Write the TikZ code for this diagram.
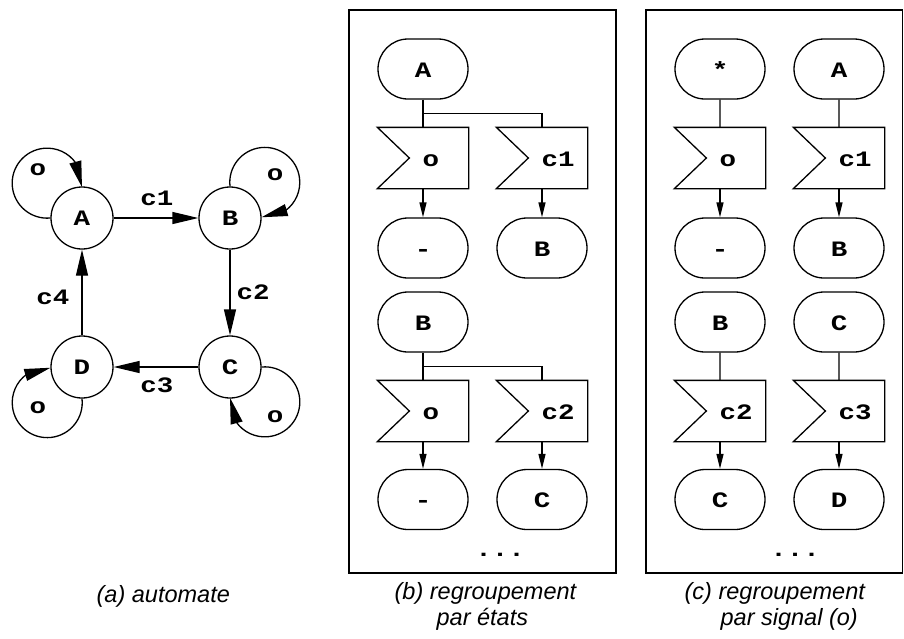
\documentclass[tikz,border=0pt]{standalone}
\usepackage{fontspec}
\usetikzlibrary{arrows.meta,bending,shapes.misc,calc}
\newfontfamily\courf{Liberation Mono}[FakeStretch=1.25]
\newfontfamily\capf{Liberation Sans}
\newcommand\sigshape[1]{\draw (#1.north west) -- (#1.north east) -- (#1.south east) -- (#1.south west) -- ($(#1.west)+(32,0)$) -- cycle;}
\begin{document}
\begin{tikzpicture}[x=1pt,y=-1pt,line width=1.3pt,
 cf/.style={font=\courf\bfseries\fontsize{22}{26}\selectfont},
 state/.style={circle,draw,minimum size=62pt,inner sep=0pt,cf,text height=14pt,text depth=0pt},
 term/.style={rounded rectangle,draw,minimum width=90pt,minimum height=60pt,inner sep=0pt,cf,text height=16pt,text depth=0pt},
 sig/.style={rectangle,minimum width=90pt,minimum height=60pt,inner sep=0pt},
 sigtxt/.style={anchor=base west,inner sep=0pt,cf},
 lbl/.style={inner sep=0pt,cf},
 big/.style={-{Triangle[length=26pt,width=12pt,flex]}},
 small/.style={-{Triangle[length=15pt,width=7pt]}},
 captxt/.style={anchor=base west,inner sep=0pt,font=\capf\itshape\fontsize{23.5}{27}\selectfont},
 frame/.style={line width=1.6pt}]
\useasboundingbox (0,0) rectangle (904,638);

% (a) automate
\node[state] (A) at (82,218) {A};
\node[state] (B) at (230,218) {B};
\node[state] (C) at (230,367) {C};
\node[state] (D) at (82,367) {D};
\draw[big] (A) -- (B);
\draw[big] (B) -- (C);
\draw[big] (C) -- (D);
\draw[big] (D) -- (A);
\node[lbl] (l1) at (157,198) {c1};
\node[lbl] (l2) at (253,292) {c2};
\node[lbl] (l3) at (157,385) {c3};
\node[lbl] (l4) at (53,297) {c4};
\draw[big] (A.west) arc[start angle=84.8,end angle=366.5,radius=35];
\draw[big] (B.north) arc[start angle=173.5,end angle=455.2,radius=35];
\draw[big] (C.east) arc[start angle=264.8,end angle=546.5,radius=35];
\draw[big] (D.south) arc[start angle=353.5,end angle=635.2,radius=35];
\node[lbl] (oA) at (38,170) {o};
\node[lbl] (oB) at (275,175) {o};
\node[lbl] (oC) at (275,417) {o};
\node[lbl] (oD) at (38,408) {o};

% (b) panel
\draw[frame] (349,10) rectangle (616,573);
\node[term] (b1) at (423,69) {A};
\node[sig] (b2) at (423,158) {}; \sigshape{b2}
\node[sigtxt] (b2t) at ($(b2.center)+(-1,8.5)$) {o};
\node[sig] (b3) at (542,158) {}; \sigshape{b3}
\node[sigtxt] (b3t) at ($(b3.center)+(-1,8.5)$) {c1};
\node[term] (b4) at (423,248) {-};
\node[term] (b5) at (542,248) {B};
\draw (b1.south) -- (b2.north);
\draw ($(b1.south)!0.5!(b2.north)$) -| (b3.north);
\draw[small] (b2.south) -- (b4.north);
\draw[small] (b3.south) -- (b5.north);

\node[term] (b6) at (423,322) {B};
\node[sig] (b7) at (423,411) {}; \sigshape{b7}
\node[sigtxt] (b7t) at ($(b7.center)+(-1,8.5)$) {o};
\node[sig] (b8) at (542,411) {}; \sigshape{b8}
\node[sigtxt] (b8t) at ($(b8.center)+(-1,8.5)$) {c2};
\node[term] (b9) at (423,499.5) {-};
\node[term] (b10) at (542,499.5) {C};
\draw (b6.south) -- (b7.north);
\draw ($(b6.south)!0.5!(b7.north)$) -| (b8.north);
\draw[small] (b7.south) -- (b9.north);
\draw[small] (b8.south) -- (b10.north);
\node[lbl] (bd) at (500,555) {...};

% (c) panel
\draw[frame] (646,10) rectangle (902.5,573);
\node[term] (c1) at (720,69) {*};
\node[term] (c2) at (839,69) {A};
\node[sig] (c3) at (720,158) {}; \sigshape{c3}
\node[sigtxt] (c3t) at ($(c3.center)+(-1,8.5)$) {o};
\node[sig] (c4) at (839,158) {}; \sigshape{c4}
\node[sigtxt] (c4t) at ($(c4.center)+(-1,8.5)$) {c1};
\node[term] (c5) at (720,248) {-};
\node[term] (c6) at (839,248) {B};
\draw (c1) -- (c3);
\draw (c2) -- (c4);
\draw[small] (c3.south) -- (c5.north);
\draw[small] (c4.south) -- (c6.north);

\node[term] (c7) at (720,322) {B};
\node[term] (c8) at (839,322) {C};
\node[sig] (c9) at (720,411) {}; \sigshape{c9}
\node[sigtxt] (c9t) at ($(c9.center)+(-1,8.5)$) {c2};
\node[sig] (c10) at (839,411) {}; \sigshape{c10}
\node[sigtxt] (c10t) at ($(c10.center)+(-1,8.5)$) {c3};
\node[term] (c11) at (720,499.5) {C};
\node[term] (c12) at (839,499.5) {D};
\draw (c7) -- (c9);
\draw (c8) -- (c10);
\draw[small] (c9.south) -- (c11.north);
\draw[small] (c10.south) -- (c12.north);
\node[lbl] (cd) at (795,555) {...};

% captions
\node[captxt] (ca) at (96,602) {(a) automate};
\node[captxt] (cb1) at (394,599) {(b) regroupement};
\node[captxt] (cb2) at (436,625) {par états};
\node[captxt] (cc1) at (684,599) {(c) regroupement};
\node[captxt] (cc2) at (720,625) {par signal (o)};
\end{tikzpicture}
\end{document}
